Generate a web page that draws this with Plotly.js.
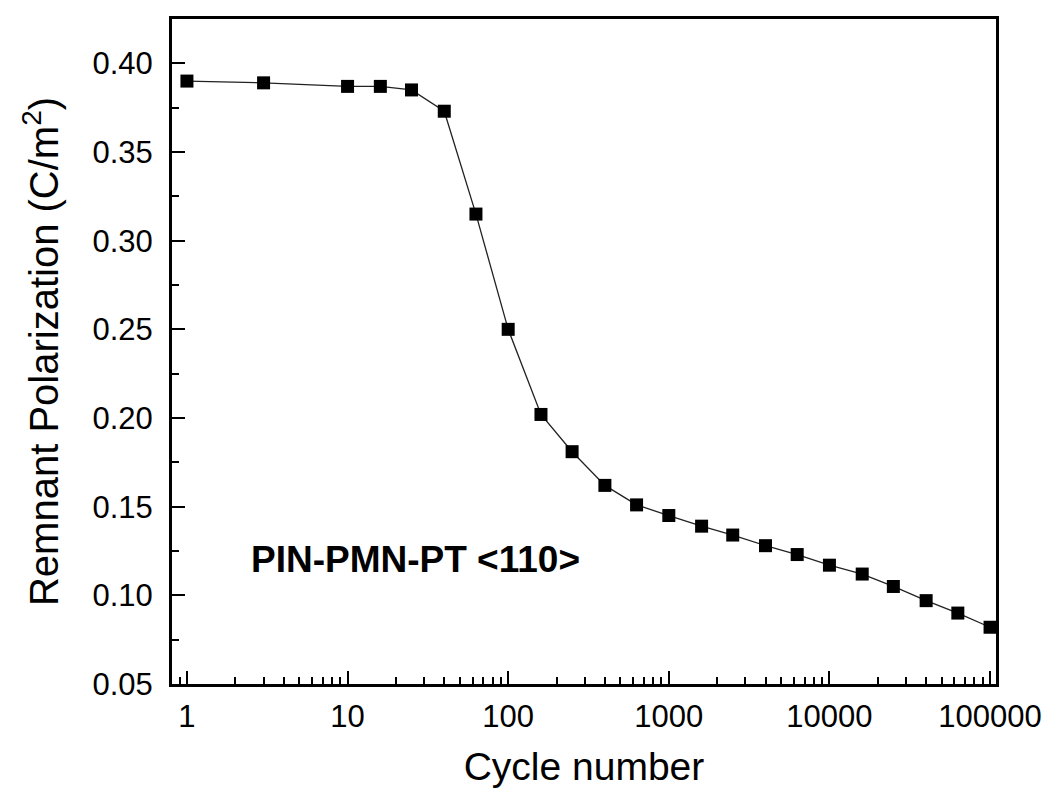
<!DOCTYPE html>
<html>
<head>
<meta charset="utf-8">
<script src="https://cdn.plot.ly/plotly-3.0.1.min.js"></script>
<style>html,body{margin:0;padding:0;background:#fff;}#chart{width:1050px;height:798px;}</style>
</head>
<body>
<div id="chart"></div>
<script>
const cycles = [1, 3, 10, 16, 25, 40, 63, 100, 160, 250, 400, 630, 1000, 1600, 2500, 4000, 6300, 10000, 16000, 25000, 40000, 63000, 100000];
const polarization = [0.390, 0.389, 0.387, 0.387, 0.385, 0.373, 0.315, 0.250, 0.202, 0.181, 0.162, 0.151, 0.145, 0.139, 0.134, 0.128, 0.123, 0.117, 0.112, 0.105, 0.097, 0.090, 0.082];
const xTickVals = [1, 10, 100, 1000, 10000, 100000];
const xTickText = ['1', '10', '100', '1000', '10000', '100000'];
const sampleLabel = 'PIN-PMN-PT &lt;110&gt;';

const trace = {
  x: cycles, y: polarization, type: 'scatter', mode: 'lines+markers',
  line: {color: '#222', width: 1.3},
  marker: {symbol: 'square', size: 13, color: '#000'},
  showlegend: false
};
const font = 'Liberation Sans, Arial, sans-serif';
const layout = {
  width: 1050, height: 798,
  margin: {l: 172, r: 54, t: 19, b: 114},
  paper_bgcolor: '#fff', plot_bgcolor: '#fff',
  font: {family: font, color: '#000'},
  xaxis: {
    type: 'log', range: [-0.093, 5.037],
    tickvals: xTickVals, ticktext: xTickText,
    ticks: 'inside', ticklen: 13, tickwidth: 2, tickcolor: '#000',
    minor: {ticks: 'inside', ticklen: 7, tickwidth: 2, tickcolor: '#000', dtick: 'D1', showgrid: false},
    showline: true, linewidth: 3, linecolor: '#000', mirror: true,
    showgrid: false, zeroline: false,
    tickfont: {size: 31, family: font},
    ticklabelstandoff: 3,
    title: {text: 'Cycle number', font: {size: 39, family: font}, standoff: 20}
  },
  yaxis: {
    range: [0.05, 0.425], dtick: 0.05, tick0: 0.05, tickformat: '.2f',
    ticks: 'inside', ticklen: 13, tickwidth: 2, tickcolor: '#000',
    minor: {ticks: 'inside', ticklen: 7, tickwidth: 2, tickcolor: '#000', dtick: 0.025, showgrid: false},
    showline: true, linewidth: 3, linecolor: '#000', mirror: true,
    showgrid: false, zeroline: false,
    tickfont: {size: 31, family: font},
    ticklabelstandoff: 10,
    title: {text: 'Remnant Polarization (C/m<sup>2</sup>)', font: {size: 40, family: font}, standoff: 22}
  },
  annotations: [{
    text: '<b>' + sampleLabel + '</b>', xref: 'paper', yref: 'paper',
    x: 0.094, y: 0.187, xanchor: 'left', yanchor: 'middle', showarrow: false,
    font: {size: 37, family: font, color: '#000'}
  }]
};
Plotly.newPlot('chart', [trace], layout, {displayModeBar: false, staticPlot: true});
</script>
</body>
</html>
